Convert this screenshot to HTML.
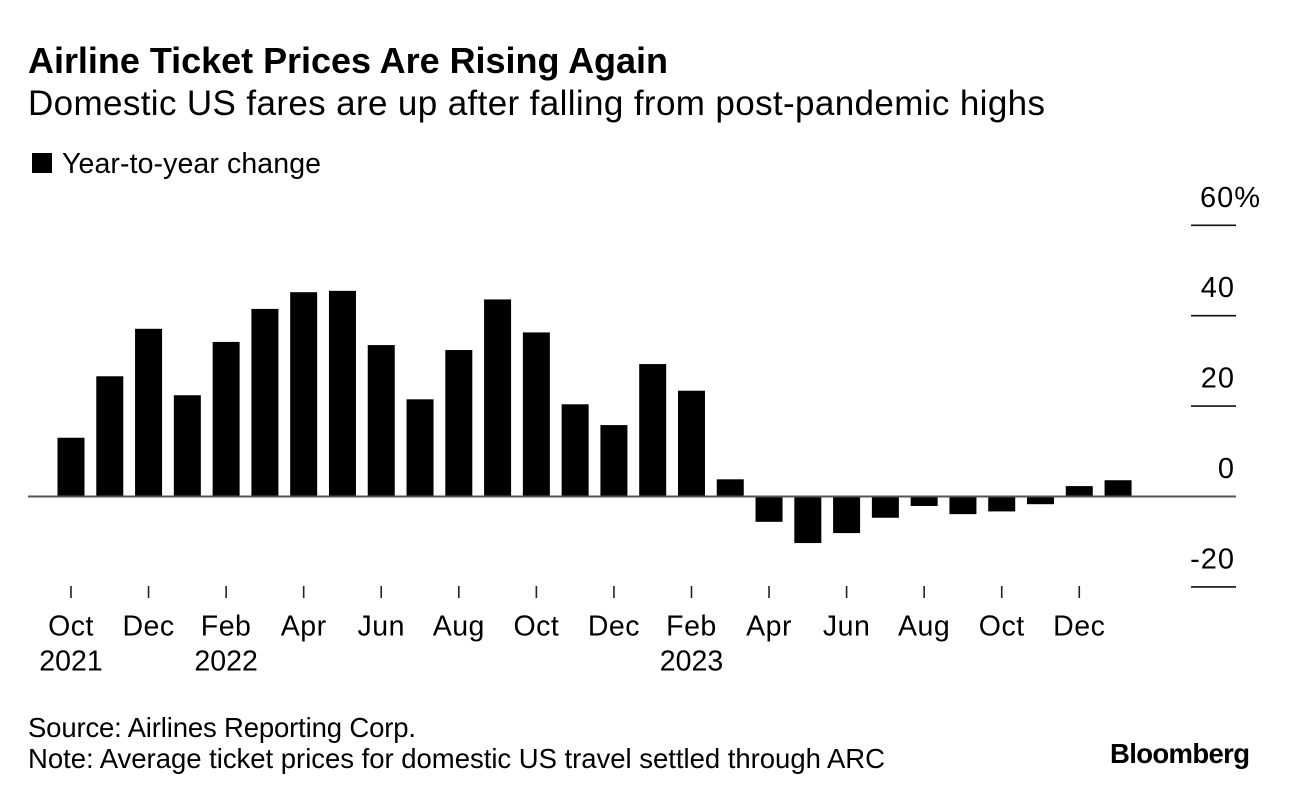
<!DOCTYPE html>
<html lang="en">
<head>
<meta charset="utf-8">
<title>Airline Ticket Prices Are Rising Again</title>
<style>
html,body{margin:0;padding:0;background:#fff;}
svg{display:block;}
text{font-family:"Liberation Sans",sans-serif;fill:#000;}
</style>
</head>
<body>
<svg id="chart" xmlns="http://www.w3.org/2000/svg" width="1289" height="798" viewBox="0 0 1289 798">
  <rect x="0" y="0" width="1289" height="798" fill="#fff"/>
  <text x="28" y="73" font-size="36" font-weight="700" textLength="640" lengthAdjust="spacing">Airline Ticket Prices Are Rising Again</text>
  <text x="28" y="115" font-size="35" textLength="1017" lengthAdjust="spacing">Domestic US fares are up after falling from post-pandemic highs</text>
  <rect x="32" y="153" width="20" height="20" fill="#000"/>
  <text x="62" y="173" font-size="28.5" textLength="259" lengthAdjust="spacing">Year-to-year change</text>
  <g id="y-axis"></g>
  <g id="bars"></g>
  <line x1="28" x2="1236" y1="496.5" y2="496.5" stroke="#555" stroke-width="2"/>
  <g id="x-axis"></g>
  <text x="28" y="737" font-size="27.5" textLength="388" lengthAdjust="spacing">Source: Airlines Reporting Corp.</text>
  <text x="28" y="768" font-size="27.5" textLength="857" lengthAdjust="spacing">Note: Average ticket prices for domestic US travel settled through ARC</text>
  <text x="1110" y="763" font-size="27.5" font-weight="700" textLength="140" lengthAdjust="spacing">Bloomberg</text>
</svg>
<script>
const months = ["Oct 2021","Nov 2021","Dec 2021","Jan 2022","Feb 2022","Mar 2022","Apr 2022","May 2022","Jun 2022","Jul 2022","Aug 2022","Sep 2022","Oct 2022","Nov 2022","Dec 2022","Jan 2023","Feb 2023","Mar 2023","Apr 2023","May 2023","Jun 2023","Jul 2023","Aug 2023","Sep 2023","Oct 2023","Nov 2023","Dec 2023","Jan 2024"];
const changeValues = [13.0,26.6,37.1,22.4,34.2,41.5,45.2,45.5,33.5,21.5,32.4,43.6,36.3,20.4,15.8,29.3,23.4,3.8,-5.6,-10.3,-8.1,-4.7,-2.1,-3.9,-3.3,-1.7,2.3,3.6];
const yTicks = [60,40,20,0,-20];
const yTickLabels = ["60%","40","20","0","-20"];
const xTickMonths = ["Oct 2021","Dec 2021","Feb 2022","Apr 2022","Jun 2022","Aug 2022","Oct 2022","Dec 2022","Feb 2023","Apr 2023","Jun 2023","Aug 2023","Oct 2023","Dec 2023"];
const xTickLabels = ["Oct","Dec","Feb","Apr","Jun","Aug","Oct","Dec","Feb","Apr","Jun","Aug","Oct","Dec"];
const xYearLabels = ["2021","","2022","","","","","","2023","","","","",""];

const NS = "http://www.w3.org/2000/svg";
function yScale(v){ return 496.5 - v * 4.52; }
function xScale(month){ return 71 + months.indexOf(month) * 38.78; }
const barWidth = 27;

const yAxis = document.getElementById("y-axis");
yTicks.forEach(function(t, i){
  const y = yScale(t);
  const line = document.createElementNS(NS, "line");
  
  
  line.setAttribute("x1", 1191);
  line.setAttribute("x2", 1236);
  line.setAttribute("y1", y);
  line.setAttribute("y2", y);
  line.setAttribute("stroke", "#111");
  line.setAttribute("stroke-width", 1.6);
  yAxis.appendChild(line);
  const label = document.createElementNS(NS, "text");
  
  
  const isPct = yTickLabels[i].indexOf("%") >= 0;
  label.setAttribute("x", isPct ? 1200 : 1235);
  label.setAttribute("y", y - 18.5);
  label.setAttribute("text-anchor", isPct ? "start" : "end");
  label.setAttribute("font-size", 29);
  label.setAttribute("letter-spacing", 1);
  label.textContent = yTickLabels[i];
  yAxis.appendChild(label);
});

const barsGroup = document.getElementById("bars");
changeValues.forEach(function(v, i){
  const cx = xScale(months[i]);
  const y0 = yScale(0);
  const y1 = yScale(v);
  const bar = document.createElementNS(NS, "rect");
  
  
  bar.setAttribute("x", cx - barWidth / 2);
  bar.setAttribute("y", Math.min(y0, y1));
  bar.setAttribute("width", barWidth);
  bar.setAttribute("height", Math.abs(y0 - y1));
  bar.setAttribute("fill", "#000");
  barsGroup.appendChild(bar);
});

const xAxis = document.getElementById("x-axis");
xTickMonths.forEach(function(m, i){
  const x = xScale(m);
  const tick = document.createElementNS(NS, "line");
  
  
  tick.setAttribute("x1", x);
  tick.setAttribute("x2", x);
  tick.setAttribute("y1", 586);
  tick.setAttribute("y2", 598);
  tick.setAttribute("stroke", "#222");
  tick.setAttribute("stroke-width", 1.6);
  xAxis.appendChild(tick);
  const label = document.createElementNS(NS, "text");
  
  
  label.setAttribute("x", x);
  label.setAttribute("y", 635.5);
  label.setAttribute("text-anchor", "middle");
  label.setAttribute("font-size", 28.5);
  label.setAttribute("letter-spacing", 0.5);
  label.textContent = xTickLabels[i];
  xAxis.appendChild(label);
  if (xYearLabels[i]) {
    const year = document.createElementNS(NS, "text");
    
    
    year.setAttribute("x", x);
    year.setAttribute("y", 670.5);
    year.setAttribute("text-anchor", "middle");
    year.setAttribute("font-size", 28.5);
    year.textContent = xYearLabels[i];
    xAxis.appendChild(year);
  }
});
</script>
</body>
</html>
